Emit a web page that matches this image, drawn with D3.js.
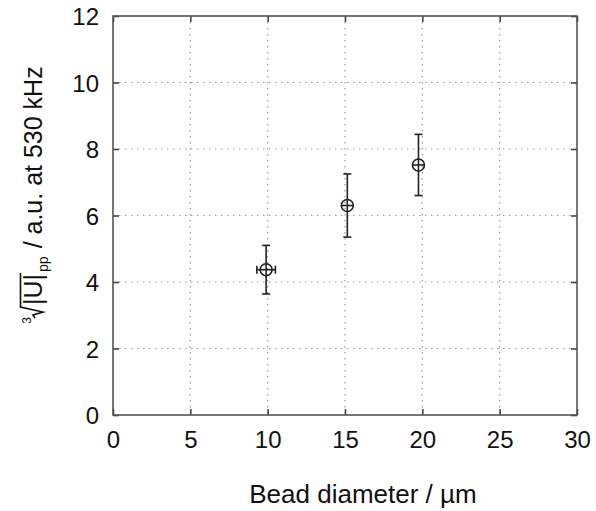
<!DOCTYPE html>
<html>
<head>
<meta charset="utf-8">
<script src="https://cdn.jsdelivr.net/npm/d3@7"></script>
<style>
  body { margin: 0; background: #fff; }
  text { font-family: "Liberation Sans", Arial, sans-serif; fill: #111; }
</style>
</head>
<body>
<div id="chart"></div>
<script>
// data
const beadDiameter = [9.9, 15.15, 19.75];
const diameterErr = [0.6, 0, 0];
const amplitude = [4.37, 6.3, 7.52];
const amplitudeErr = [0.73, 0.95, 0.92];
const xTicks = [0, 5, 10, 15, 20, 25, 30];
const yTicks = [0, 2, 4, 6, 8, 10, 12];

const W = 596, H = 511;
const margin = {top: 16, right: 19, bottom: 96, left: 113};
const width = W - margin.left - margin.right;
const height = H - margin.top - margin.bottom;

const svg = d3.select('#chart').append('svg')
    .attr('width', W)
    .attr('height', H);

const g = svg.append('g')
    .attr('transform', `translate(${margin.left},${margin.top})`);

const xScale = d3.scaleLinear().domain([0, 30]).range([0, width]);
const yScale = d3.scaleLinear().domain([0, 12]).range([height, 0]);

// dotted grid
g.append('g')
    .selectAll('line')
    .data(xTicks.slice(1, -1))
    .join('line')
    .attr('x1', d => xScale(d)).attr('x2', d => xScale(d))
    .attr('y1', 0).attr('y2', height)
    .attr('stroke', '#999').attr('stroke-width', 1.2)
    .attr('stroke-dasharray', '1.5,4.5');

g.append('g')
    .selectAll('line')
    .data(yTicks.slice(1, -1))
    .join('line')
    .attr('x1', 0).attr('x2', width)
    .attr('y1', d => yScale(d)).attr('y2', d => yScale(d))
    .attr('stroke', '#999').attr('stroke-width', 1.2)
    .attr('stroke-dasharray', '1.5,4.5');

// axes: inward ticks on all four sides
const tickLen = 6;
let axB = g.append('g').attr('transform', `translate(0,${height})`)
    .call(d3.axisBottom(xScale).tickValues(xTicks).tickSize(-tickLen).tickPadding(16));
let axT = g.append('g')
    .call(d3.axisTop(xScale).tickValues(xTicks).tickSize(-tickLen).tickFormat(''));
let axL = g.append('g')
    .call(d3.axisLeft(yScale).tickValues(yTicks).tickSize(-tickLen).tickPadding(14));
let axR = g.append('g').attr('transform', `translate(${width},0)`)
    .call(d3.axisRight(yScale).tickValues(yTicks).tickSize(-tickLen).tickFormat(''));

[axB, axT, axL, axR].forEach(a => {
    a.select('.domain').remove();
    a.selectAll('.tick line').attr('stroke', '#444').attr('stroke-width', 1.6);
    a.selectAll('text').style('font-size', '24px').attr('fill', '#111');
});
axL.selectAll('text').attr('dy', '0.36em');

// frame
g.append('rect')
    .attr('width', width).attr('height', height)
    .attr('fill', 'none').attr('stroke', '#555').attr('stroke-width', 1.6);

// points with error bars
const points = beadDiameter.map((d, i) => ({
    x: d, y: amplitude[i], ex: diameterErr[i], ey: amplitudeErr[i]
}));
const r = 6, cap = 4;
const pts = g.append('g').attr('stroke', '#222').attr('stroke-width', 1.6).attr('fill', 'none');

points.forEach(p => {
    const cx = xScale(p.x), cy = yScale(p.y);
    const y1 = yScale(p.y + p.ey), y2 = yScale(p.y - p.ey);
    pts.append('line').attr('x1', cx).attr('x2', cx).attr('y1', y1).attr('y2', y2);
    pts.append('line').attr('x1', cx - cap).attr('x2', cx + cap).attr('y1', y1).attr('y2', y1);
    pts.append('line').attr('x1', cx - cap).attr('x2', cx + cap).attr('y1', y2).attr('y2', y2);
    const xl = p.ex > 0 ? xScale(p.x - p.ex) : cx - r;
    const xr = p.ex > 0 ? xScale(p.x + p.ex) : cx + r;
    pts.append('line').attr('x1', xl).attr('x2', xr).attr('y1', cy).attr('y2', cy);
    if (p.ex > 0) {
        pts.append('line').attr('x1', xl).attr('x2', xl).attr('y1', cy - cap).attr('y2', cy + cap);
        pts.append('line').attr('x1', xr).attr('x2', xr).attr('y1', cy - cap).attr('y2', cy + cap);
    }
    pts.append('circle').attr('cx', cx).attr('cy', cy).attr('r', r);
});

// x label
svg.append('text')
    .attr('x', 363).attr('y', 503)
    .attr('text-anchor', 'middle')
    .style('font-size', '26px')
    .text('Bead diameter / µm');

// y label: cube root of |U| (overlined) with subscript pp
const yl = svg.append('g').attr('transform', 'translate(42,195) rotate(-90)');
const fs = 25;
let pos = 0;
const idx = yl.append('text').attr('x', pos).attr('y', -11).style('font-size', '12px').text('3');
pos += idx.node().getComputedTextLength() - 1;
// radical sign
const radStart = pos;
const radW = 13;
const topY = -fs * 0.86;
pos += radW;
const uTxt = yl.append('text').attr('x', pos).attr('y', 0).style('font-size', fs + 'px').text('|U|');
pos += uTxt.node().getComputedTextLength();
const barEnd = pos + 1;
const sub = yl.append('text').attr('x', pos + 2).attr('y', 6).style('font-size', '14px').text('pp');
pos += sub.node().getComputedTextLength() + 2 + 8;
const rest = yl.append('text').attr('x', pos).attr('y', 0).style('font-size', fs + 'px').text('/ a.u. at 530 kHz');
pos += rest.node().getComputedTextLength();

yl.append('path')
    .attr('d', `M${radStart},-7 L${radStart + 3},-9 L${radStart + 6},1 L${radStart + radW - 2},${topY} L${barEnd},${topY}`)
    .attr('fill', 'none').attr('stroke', '#111').attr('stroke-width', 1.6);

// center the label along the axis
yl.selectAll('text, path').attr('transform', `translate(${-pos / 2},0)`);
</script>
</body>
</html>
